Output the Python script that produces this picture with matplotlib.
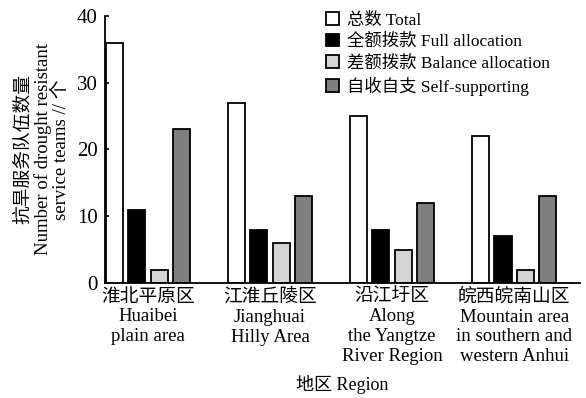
import numpy as np
import matplotlib
matplotlib.use("Agg")
import matplotlib.pyplot as plt

plt.rcParams['font.family'] = ['Liberation Serif', 'Noto Sans CJK SC', 'DejaVu Sans']

regions = ["淮北平原区\nHuaibei\nplain area",
           "江淮丘陵区\nJianghuai\nHilly Area",
           "沿江圩区\nAlong\nthe Yangtze\nRiver Region",
           "皖西皖南山区\nMountain area\nin southern and\nwestern Anhui"]
series_names = ["总数 Total", "全额拨款 Full allocation",
                "差额拨款 Balance allocation", "自收自支 Self-supporting"]
total = [36, 27, 25, 22]
full_alloc = [11, 8, 8, 7]
balance_alloc = [2, 6, 5, 2]
self_supp = [23, 13, 12, 13]

colors = ["white", "black", "#d4d4d4", "#7f7f7f"]

fig = plt.figure(figsize=(5.86, 3.98), dpi=100)
ax = fig.add_axes([0.179, 0.289, 0.811, 0.671])

x = np.arange(len(regions))
w = 0.14
step = 0.183
data = [total, full_alloc, balance_alloc, self_supp]
for k, vals in enumerate(data):
    off = (k - 1.5) * step
    ax.bar(x + off, vals, width=w, color=colors[k], edgecolor="black",
           linewidth=1.3, label=series_names[k])

ax.set_xlim(-0.352, 3.54)
ax.set_ylim(0, 40)
ax.set_yticks([0, 10, 20, 30, 40])
ax.set_xticks(x)
ax.set_xticklabels(regions, fontsize=13.5, linespacing=1.22)
ax.tick_params(axis='y', direction='in', labelsize=15, length=3, width=1.2, pad=5)
ax.tick_params(axis='x', length=0, pad=4)
for s in ['top', 'right']:
    ax.spines[s].set_visible(False)
ax.spines['left'].set_linewidth(1.3)
ax.spines['bottom'].set_linewidth(1.3)

ax.set_ylabel("抗旱服务队伍数量\nNumber of drought resistant\nservice teams // 个",
              fontsize=13.5, linespacing=1.1, labelpad=5)
ax.set_xlabel("地区 Region", fontsize=13, labelpad=7)

ax.legend(loc='upper left', bbox_to_anchor=(0.45, 1.04), frameon=False,
          prop={'size': 12.5}, handlelength=0.75, handleheight=0.75,
          handletextpad=0.5, labelspacing=0.29, borderaxespad=0)

fig.savefig("out.png", dpi=100)
